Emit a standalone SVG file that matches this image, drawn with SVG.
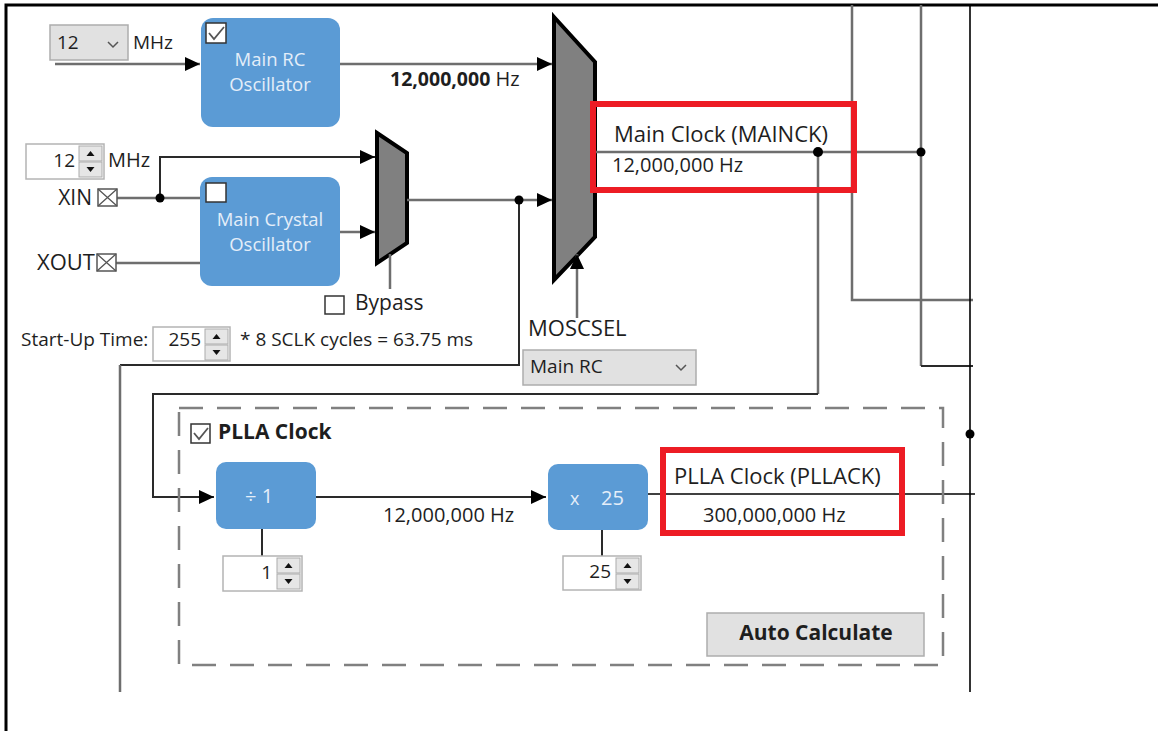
<svg xmlns="http://www.w3.org/2000/svg" width="1158" height="731" viewBox="0 0 1158 731">
  <style>
    text { font-family: "Open Sans", "Noto Sans", "Liberation Sans", sans-serif; fill: #1e1e1e; }
    .lbl { font-size: 19px; }
    .big { font-size: 22px; }
    .hz { font-size: 20px; }
    .b { font-weight: 700; }
    .blk { font-size: 18.5px; fill: #e4eef9; text-anchor: middle; }
    .blkv { font-size: 20px; fill: #e4eef9; }
    .end { text-anchor: end; }
    .block { fill: #5b9bd5; }
    .mux { fill: #808080; stroke: #000; stroke-width: 4; stroke-linejoin: miter; }
    .wire { fill: none; stroke: #6e6e6e; stroke-width: 2.5; }
    .wdark { fill: none; stroke: #2a2a2a; stroke-width: 2; }
    .wblack { fill: none; stroke: #000; stroke-width: 1.6; }
    .dot { fill: #000; }
    .field { fill: #fff; stroke: #b4b4b4; stroke-width: 1.5; }
    .combo { fill: #e1e1e1; stroke: #adadad; stroke-width: 1.5; }
    .button { fill: #e1e1e1; stroke: #adadad; stroke-width: 1.5; }
    .chev { fill: none; stroke: #555; stroke-width: 1.5; }
    .chk { fill: #fff; stroke: #333; stroke-width: 1.5; }
    .tick { fill: none; stroke: #555; stroke-width: 1.8; }
    .hi { fill: none; stroke: #ed1c24; stroke-width: 6; }
    .group { fill: none; stroke: #808080; stroke-width: 2.5; stroke-dasharray: 24 14; }
    .pin { fill: #fff; stroke: #555; stroke-width: 1.5; }
  </style>
  <defs>
    <marker id="arr" markerUnits="userSpaceOnUse" markerWidth="15" markerHeight="14" refX="15" refY="7" orient="auto">
      <path d="M0,0 L15,7 L0,14 z" fill="#000"/>
    </marker>
    <!-- up/down spinner buttons, 23 x 31 -->
    <g id="spinner">
      <rect x="0" y="0" width="23" height="15" fill="#e6e6e6" stroke="#acacac" stroke-width="1"/>
      <rect x="0" y="16" width="23" height="15" fill="#e6e6e6" stroke="#acacac" stroke-width="1"/>
      <path d="M7.5,10 L15.5,10 L11.5,5 z" fill="#111"/>
      <path d="M7.5,21 L15.5,21 L11.5,26 z" fill="#111"/>
    </g>
    <!-- external pin: boxed cross -->
    <g id="pinbox">
      <rect class="pin" x="0" y="0" width="19" height="17"/>
      <path d="M0,0 L19,17 M19,0 L0,17" stroke="#555" stroke-width="1.3"/>
    </g>
  </defs>

  <!-- window frame -->
  <path d="M6,731 V5 H1158" fill="none" stroke="#000" stroke-width="3"/>

  <!-- muxes -->
  <g id="bypass-mux">
    <polygon class="mux" points="377,133 407,153 407,243 377,263"/>
  </g>
  <g id="main-mux">
    <polygon class="mux" points="554,17 595,62 595,237 554,280"/>
  </g>

  <g id="connectors">
    <!-- RC oscillator -->
    <path class="wire" d="M55,64 H200" marker-end="url(#arr)"/>
    <path class="wire" d="M340,64 H552" marker-end="url(#arr)"/>
    <!-- crystal pins -->
    <path class="wire" d="M117,198 H200"/>
    <path class="wire" d="M116,263 H200"/>
    <path class="wdark" d="M160,198 V157 H375" marker-end="url(#arr)"/>
    <path class="wire" d="M340,232 H375" marker-end="url(#arr)"/>
    <path class="wire" d="M390,254 V289"/>
    <!-- bypass mux to main mux -->
    <path class="wire" d="M407,200 H552" marker-end="url(#arr)"/>
    <path class="wdark" d="M519,200 V365 H120"/>
    <path class="wire" d="M120,365 V692"/>
    <!-- MOSCSEL select -->
    <path class="wire" d="M577,318 V254" marker-end="url(#arr)"/>
    <!-- MAINCK distribution -->
    <path class="wire" d="M595,152 H921"/>
    <path class="wire" d="M818,152 V394"/>
    <path class="wdark" d="M818,394 H153 V497 H214" marker-end="url(#arr)"/>
    <path class="wire" d="M852,5 V300 H973"/>
    <path class="wire" d="M921,5 V366"/>
    <path class="wdark" d="M921,366 H973"/>
    <path class="wblack" d="M970,5 V692"/>
    <!-- PLLA chain -->
    <path class="wdark" d="M316,497 H546" marker-end="url(#arr)"/>
    <path class="wdark" d="M262,529 V556"/>
    <path class="wdark" d="M602,530 V556"/>
    <path class="wblack" d="M648,494 H975"/>
    <circle class="dot" cx="160" cy="198" r="4.5"/>
    <circle class="dot" cx="519" cy="200" r="4.5"/>
    <circle class="dot" cx="818" cy="152" r="5"/>
    <circle class="dot" cx="921" cy="152" r="4.5"/>
    <circle class="dot" cx="970" cy="434" r="4.5"/>
  </g>

  <g id="rc-frequency">
    <rect class="combo" x="50" y="25" width="78" height="35"/>
    <text class="lbl" x="57" y="49">12</text>
    <polyline class="chev" points="108,42 113,47 118,42"/>
    <text class="lbl" x="133" y="49">MHz</text>
  </g>

  <g id="main-rc-oscillator">
    <rect class="block" x="201" y="18" width="139" height="109" rx="12"/>
    <rect class="chk" x="206" y="23" width="20" height="20"/>
    <polyline class="tick" points="209,33 214,39 224,27"/>
    <text class="blk" x="270" y="66">Main RC</text>
    <text class="blk" x="270" y="91">Oscillator</text>
  </g>

  <text class="hz" x="390" y="86"><tspan class="b" style="font-size:19.5px">12,000,000</tspan> Hz</text>

  <g id="crystal-frequency">
    <rect class="field" x="26" y="144" width="78" height="35"/>
    <text class="lbl end" x="75" y="167">12</text>
    <use href="#spinner" x="79" y="146"/>
    <text class="hz" x="108" y="167">MHz</text>
  </g>

  <g id="xin">
    <text class="hz end" x="92" y="205" style="font-size:21px">XIN</text>
    <use href="#pinbox" x="98" y="189"/>
  </g>
  <g id="xout">
    <text class="hz end" x="95" y="270" style="font-size:22px">XOUT</text>
    <use href="#pinbox" x="97" y="254"/>
  </g>

  <g id="main-crystal-oscillator">
    <rect class="block" x="200" y="177" width="140" height="109" rx="12"/>
    <rect class="chk" x="206" y="183" width="20" height="19"/>
    <text class="blk" x="270" y="226">Main Crystal</text>
    <text class="blk" x="270" y="251">Oscillator</text>
  </g>

  <g id="bypass">
    <rect class="chk" x="325" y="296" width="19" height="18"/>
    <text class="hz" x="355" y="310" style="font-size:21px">Bypass</text>
  </g>

  <g id="startup-time">
    <text class="lbl" x="21" y="346">Start-Up Time:</text>
    <rect class="field" x="153" y="327" width="77" height="34"/>
    <text class="lbl end" x="201" y="346">255</text>
    <use href="#spinner" x="205" y="329"/>
    <text class="lbl" x="240" y="346">* 8 SCLK cycles = 63.75 ms</text>
  </g>

  <g id="moscsel">
    <text class="big" x="528" y="336">MOSCSEL</text>
    <rect class="combo" x="523" y="350" width="173" height="35"/>
    <text class="lbl" x="530" y="373">Main RC</text>
    <polyline class="chev" points="676,365 681,370 686,365"/>
  </g>

  <g id="mainck">
    <rect class="hi" x="593" y="104" width="261" height="86"/>
    <text class="big" x="614" y="142">Main Clock (MAINCK)</text>
    <text class="hz" x="612" y="172">12,000,000 Hz</text>
  </g>

  <g id="plla">
    <rect class="group" x="179" y="408" width="764" height="257"/>
    <rect class="chk" x="191" y="424" width="19" height="19"/>
    <polyline class="tick" points="194,433 199,439 208,428"/>
    <text class="big b" x="218" y="439" style="font-size:21px">PLLA Clock</text>
  </g>

  <g id="plla-divider">
    <rect class="block" x="216" y="462" width="100" height="67" rx="10"/>
    <text class="blkv" x="245" y="503">÷ 1</text>
    <rect class="field" x="223" y="556" width="79" height="35"/>
    <text class="lbl end" x="272" y="579">1</text>
    <use href="#spinner" x="277" y="558"/>
  </g>

  <text class="hz" x="383" y="522">12,000,000  Hz</text>

  <g id="plla-multiplier">
    <rect class="block" x="548" y="464" width="100" height="66" rx="10"/>
    <text class="blkv" x="570" y="505" style="font-size:18px">x</text>
    <text class="blkv" x="601" y="505">25</text>
    <rect class="field" x="563" y="556" width="78" height="34"/>
    <text class="lbl end" x="611" y="578">25</text>
    <use href="#spinner" x="616" y="558"/>
  </g>

  <g id="pllack">
    <rect class="hi" x="663" y="450" width="239" height="83"/>
    <text class="big" x="674" y="484">PLLA Clock (PLLACK)</text>
    <text class="hz" x="703" y="522">300,000,000  Hz</text>
  </g>

  <g id="auto-calculate">
    <rect class="button" x="707" y="613" width="217" height="43"/>
    <text class="big b" x="816" y="640" text-anchor="middle" style="font-size:21px">Auto Calculate</text>
  </g>
</svg>
